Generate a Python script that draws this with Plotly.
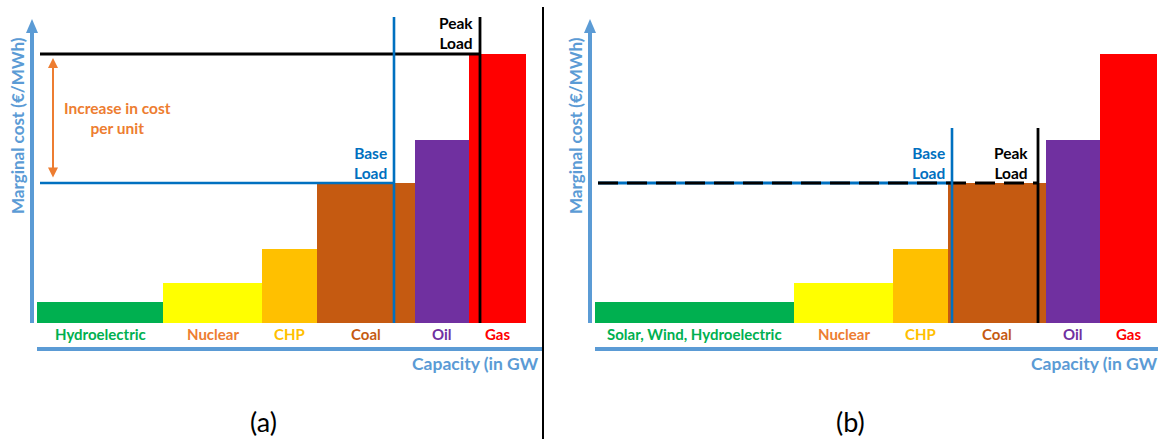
import numpy as np
import plotly.graph_objects as go

W, H = 1162, 439

# ---------------- data ----------------
categories_a = ["Hydroelectric", "Nuclear", "CHP", "Coal", "Oil", "Gas"]
categories_b = ["Solar, Wind, Hydroelectric", "Nuclear", "CHP", "Coal", "Oil", "Gas"]
capacity_a = [126, 99, 55, 98, 54, 57]      # relative capacity (GW units)
capacity_b = [199, 99, 55, 98, 54, 57]
marginal_cost = [21, 40, 74, 140, 183, 269]  # relative marginal cost
base_load = 357
peak_load = 443
base_cost = 140
peak_cost = 269
arrow_x = 16

bar_colors = ["#00B050", "#FFFF00", "#FFC000", "#C55A11", "#7030A0", "#FF0000"]
label_colors = ["#00B050", "#ED7D31", "#FFC000", "#C55A11", "#7030A0", "#FF0000"]

AXIS_BLUE = "#5B9BD5"
LINE_BLUE = "#0070C0"
TEXT_BLUE = "#0070C0"
ORANGE = "#ED7D31"
FONT = "Lato"


def px(x):
    return x / W


def py(y):
    return 1 - y / H


fig = go.Figure()
annotations = []
shapes = []


def panel(xa, ya, cats, caps, dashed, vline_top):
    caps = np.array(caps, dtype=float)
    starts = np.concatenate([[0], np.cumsum(caps)[:-1]])
    centers = starts + caps / 2
    fig.add_trace(go.Bar(x=centers, y=marginal_cost, width=caps, base=0,
                         marker=dict(color=bar_colors, line=dict(width=0)),
                         xaxis=xa, yaxis=ya, showlegend=False, hoverinfo="skip"))
    if not dashed:
        fig.add_trace(go.Scatter(x=[3, peak_load], y=[peak_cost, peak_cost], mode="lines",
                                 line=dict(color="black", width=2.8), xaxis=xa, yaxis=ya,
                                 showlegend=False, hoverinfo="skip"))
        fig.add_trace(go.Scatter(x=[3, base_load], y=[base_cost, base_cost], mode="lines",
                                 line=dict(color=LINE_BLUE, width=2.6), xaxis=xa, yaxis=ya,
                                 showlegend=False, hoverinfo="skip"))
    else:
        fig.add_trace(go.Scatter(x=[3, base_load], y=[base_cost, base_cost], mode="lines",
                                 line=dict(color=LINE_BLUE, width=2.8), xaxis=xa, yaxis=ya,
                                 showlegend=False, hoverinfo="skip"))
        fig.add_trace(go.Scatter(x=[3, peak_load], y=[base_cost, base_cost], mode="lines",
                                 line=dict(color="black", width=3, dash="20px,9px"),
                                 xaxis=xa, yaxis=ya, showlegend=False, hoverinfo="skip"))
    fig.add_trace(go.Scatter(x=[base_load, base_load], y=[0, vline_top], mode="lines",
                             line=dict(color=LINE_BLUE, width=2.6), xaxis=xa, yaxis=ya,
                             showlegend=False, hoverinfo="skip"))
    fig.add_trace(go.Scatter(x=[peak_load, peak_load], y=[0, vline_top], mode="lines",
                             line=dict(color="black", width=2.8), xaxis=xa, yaxis=ya,
                             showlegend=False, hoverinfo="skip"))
    # category labels
    for c, xc, col in zip(cats, centers, label_colors):
        annotations.append(dict(x=xc, y=py(334), xref=xa, yref="paper", text=f"<b>{c}</b>",
                                showarrow=False, font=dict(family=FONT, size=15, color=col),
                                xanchor="center", yanchor="middle"))


panel("x", "y", categories_a, capacity_a, False, 306)
panel("x2", "y2", categories_b, capacity_b, True, 195)

LBL = 15.5
# Base / Peak labels
annotations += [
    dict(x=base_load - 5, y=160, xref="x", yref="y", text="<b>Base<br>Load</b>", showarrow=False,
         xanchor="right", yanchor="middle", align="right",
         font=dict(family=FONT, size=LBL, color=TEXT_BLUE)),
    dict(x=peak_load - 5, y=290, xref="x", yref="y", text="<b>Peak<br>Load</b>", showarrow=False,
         xanchor="right", yanchor="middle", align="right",
         font=dict(family=FONT, size=LBL, color="black")),
    dict(x=base_load - 5, y=160, xref="x2", yref="y2", text="<b>Base<br>Load</b>", showarrow=False,
         xanchor="right", yanchor="middle", align="right",
         font=dict(family=FONT, size=LBL, color=TEXT_BLUE)),
    dict(x=peak_load - 8, y=160, xref="x2", yref="y2", text="<b>Peak<br>Load</b>", showarrow=False,
         xanchor="right", yanchor="middle", align="right",
         font=dict(family=FONT, size=LBL, color="black")),
    # increase arrow
    dict(x=arrow_x, y=peak_cost - 4, ax=arrow_x, ay=base_cost + 4, xref="x", yref="y",
         axref="x", ayref="y", text="", showarrow=True, arrowhead=2, arrowside="end+start",
         arrowsize=1, arrowwidth=2, arrowcolor=ORANGE),
    dict(x=80, y=205, xref="x", yref="y", text="<b>Increase in cost<br>per unit</b>",
         showarrow=False, align="center", font=dict(family=FONT, size=LBL, color=ORANGE)),
]

# Axis lines, labels, panel captions
for x_y, x0, x1, cap_x, sub_x, sub in [(32, 37, 543, 541, 263, "(a)"),
                                       (590, 595, 1158, 1160, 850, "(b)")]:
    shapes.append(dict(type="line", xref="paper", yref="paper", x0=px(x_y), x1=px(x_y),
                       y0=py(323), y1=py(30), line=dict(color=AXIS_BLUE, width=4)))
    shapes.append(dict(type="path", xref="paper", yref="paper",
                       path=f"M {px(x_y - 6)},{py(33)} L {px(x_y)},{py(19)} L {px(x_y + 6)},{py(33)} Z",
                       fillcolor=AXIS_BLUE, line=dict(width=0)))
    shapes.append(dict(type="line", xref="paper", yref="paper", x0=px(x0), x1=px(x1),
                       y0=py(349), y1=py(349), line=dict(color=AXIS_BLUE, width=4)))
    annotations.append(dict(x=px(x_y - 14), y=py(126), xref="paper", yref="paper",
                            text="<b>Marginal cost (€/MWh)</b>", textangle=-90, showarrow=False,
                            font=dict(family=FONT, size=17, color=AXIS_BLUE),
                            xanchor="center", yanchor="middle"))
    annotations.append(dict(x=px(cap_x), y=py(363), xref="paper", yref="paper",
                            text="<b>Capacity (in GW</b>", showarrow=False, xanchor="right",
                            yanchor="middle", font=dict(family=FONT, size=17.5, color=AXIS_BLUE)))
    annotations.append(dict(x=px(sub_x), y=py(421), xref="paper", yref="paper", text=sub,
                            showarrow=False, xanchor="center", yanchor="middle",
                            font=dict(family=FONT, size=27, color="black")))

# panel divider
shapes.append(dict(type="line", xref="paper", yref="paper", x0=px(543), x1=px(543),
                   y0=py(7), y1=0, line=dict(color="black", width=2)))

ax_common = dict(visible=False, fixedrange=True)
fig.update_layout(
    width=W, height=H, margin=dict(l=0, r=0, t=0, b=0),
    paper_bgcolor="white", plot_bgcolor="rgba(0,0,0,0)",
    barmode="overlay", bargap=0,
    xaxis=dict(domain=[px(37), px(543)], range=[0, 506], **ax_common),
    yaxis=dict(domain=[py(323), py(17)], range=[0, 306], **ax_common),
    xaxis2=dict(domain=[px(595), px(1158)], range=[0, 563], anchor="y2", **ax_common),
    yaxis2=dict(domain=[py(323), py(17)], range=[0, 306], anchor="x2", **ax_common),
    annotations=annotations, shapes=shapes, showlegend=False,
)

fig.write_html("out.html", config={"displayModeBar": False},
               post_script="document.body.style.margin='0';document.body.style.overflow='hidden';")
